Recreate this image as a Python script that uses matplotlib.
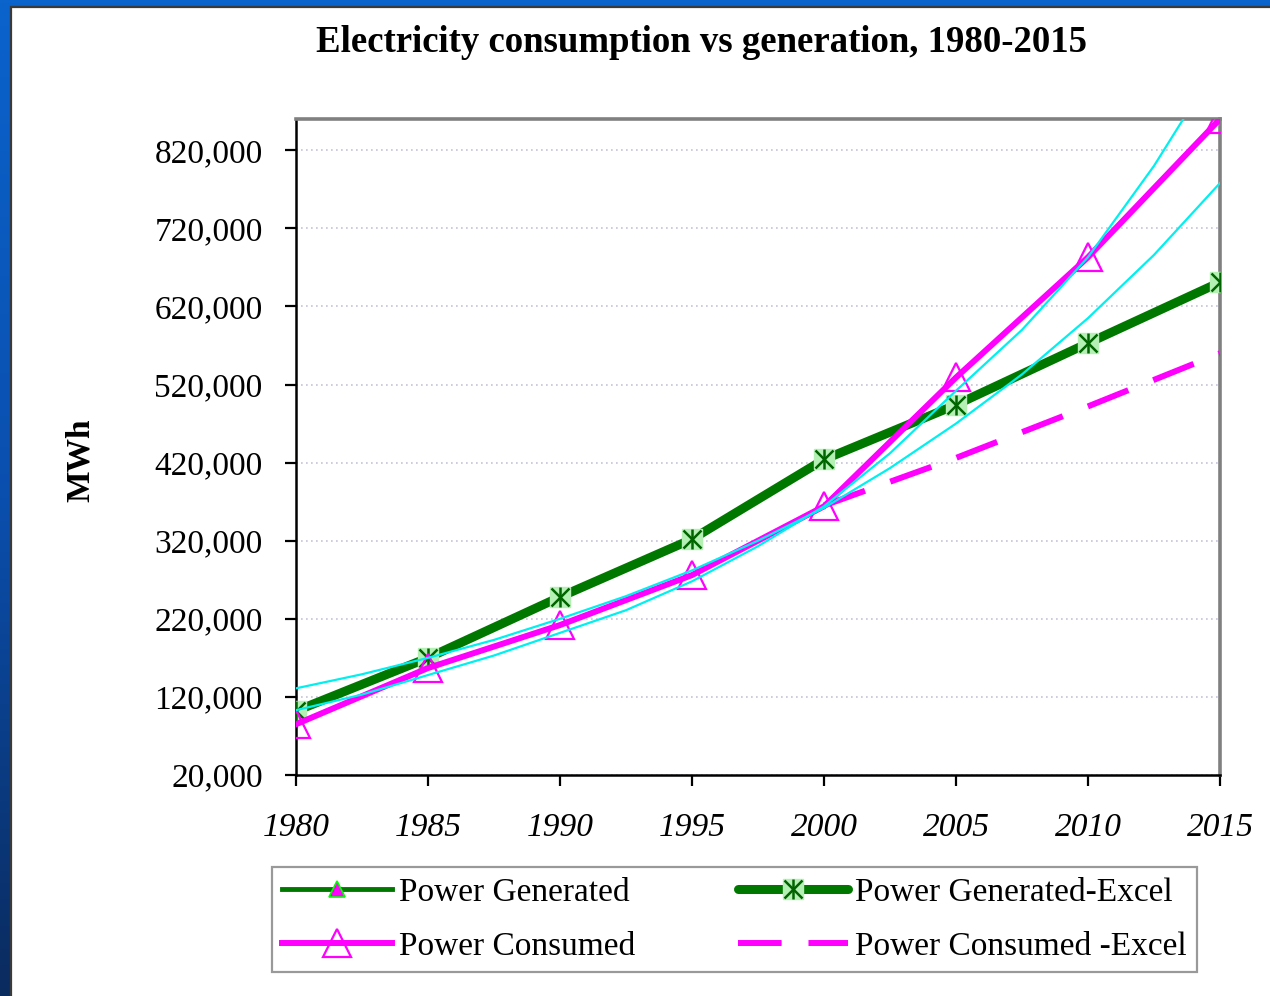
import numpy as np
import matplotlib.pyplot as plt
from matplotlib.colors import LinearSegmentedColormap
from matplotlib.patches import Rectangle
from matplotlib.legend_handler import HandlerTuple
from matplotlib.ticker import FuncFormatter

plt.rcParams['font.family'] = ['Liberation Serif', 'DejaVu Serif']

# data
years = [1980, 1985, 1990, 1995, 2000, 2005, 2010, 2015]
generated = [102000, 170000, 248000, 322000, 424000, 494000, 573000, 651000]
consumed = [85000, 157000, 212000, 276000, 364000, 529000, 683000, 860000]

years_fc = [2000, 2005, 2010, 2015]
consumed_fc = [365000, 426000, 492000, 560000]

# the two thin trend curves
years_tr = [1980, 1982.5, 1985, 1987.5, 1990, 1992.5, 1995, 1997.5,
            2000, 2002.5, 2005, 2007.5, 2010, 2012.5, 2015]
trend_a = [131000, 149000, 170000, 193000, 220000, 249000, 282000, 320000,
           362000, 413000, 470000, 533000, 605000, 686000, 778000]
trend_b = [103000, 123000, 148000, 173000, 202000, 231000, 268000, 313000,
           364000, 432000, 512000, 590000, 683000, 800000, 935000]

W, H = 1270, 996
fig = plt.figure(figsize=(W / 100, H / 100), dpi=100)

# slide background behind the chart (bright blue at top, navy at bottom)
bg = fig.add_axes([0, 0, 1, 1], zorder=-5)
grad = np.linspace(0, 1, 256).reshape(-1, 1)
slide = LinearSegmentedColormap.from_list('slide', ['#0a2b5e', '#0a4fae', '#0b63cc'])
bg.imshow(grad, aspect='auto', extent=[0, 1, 0, 1], cmap=slide)
bg.set_xlim(0, 1)
bg.set_ylim(1, 0)
bg.axis('off')
bg.add_patch(Rectangle((11 / W, 7 / H), 2, 2, facecolor='white',
                       edgecolor='#3a3a3a', linewidth=1.6))

ax = fig.add_axes([296 / W, 1 - 775 / H, (1220 - 296) / W, (775 - 119) / H])

green = '#007800'
light_green = '#b4f0b4'
magenta = '#ff00ff'
cyan = '#00f0f0'

# Power Generated (sits under the Excel series)
l_gen, = ax.plot(years, generated, color=green, lw=3.5, marker='^', ms=11,
                 markerfacecolor=magenta, markeredgecolor='#00ff00',
                 markeredgewidth=1.2, zorder=2)

# Power Generated-Excel
l_exc, = ax.plot(years, generated, color=green, lw=6.5, marker='s', ms=15,
                 markerfacecolor=light_green, markeredgecolor=light_green,
                 solid_capstyle='round', zorder=3)
l_x, = ax.plot(years, generated, ls='none', marker='x', ms=13, mew=1.8,
               color='#006400', zorder=4)
l_v, = ax.plot(years, generated, ls='none', marker='|', ms=15, mew=1.8,
               color='#006400', zorder=4)

# Power Consumed
l_con, = ax.plot(years, consumed, color=magenta, lw=4.3, marker='^', ms=20,
                 markerfacecolor='none', markeredgecolor=magenta,
                 markeredgewidth=1.6, zorder=5)

# Power Consumed -Excel
l_cfc, = ax.plot(years_fc, consumed_fc, color=magenta, lw=4.3,
                 dashes=(7.3, 4.5), zorder=5)

# trend curves
ax.plot(years_tr, trend_a, color=cyan, lw=1.6, zorder=6)
ax.plot(years_tr, trend_b, color=cyan, lw=1.6, zorder=6)

ax.set_xlim(1980, 2015)
ax.set_ylim(20000, 860000)
ax.set_xticks(years)
ax.set_yticks(np.arange(20000, 820001, 100000))
ax.yaxis.set_major_formatter(FuncFormatter(lambda v, p: f'{int(v):,}'))
ax.grid(axis='y', color='#c4c4d8', linestyle=(0, (1, 2)), linewidth=1.2)
ax.set_axisbelow(True)

ax.tick_params(axis='both', direction='out', length=8, width=1.6,
               labelsize=24, color='black')
ax.tick_params(axis='y', pad=16)
ax.tick_params(axis='x', pad=19)
for lab in ax.get_xticklabels():
    lab.set_fontstyle('italic')

for s in ['left', 'bottom']:
    ax.spines[s].set_color('black')
    ax.spines[s].set_linewidth(1.8)
for s in ['top', 'right']:
    ax.spines[s].set_color('#808080')
    ax.spines[s].set_linewidth(2.6)

fig.text(702 / W, 1 - 43 / H, 'Electricity consumption vs generation, 1980-2015',
         ha='center', va='center', fontsize=26.5, fontweight='bold')
fig.text(80 / W, 1 - 460 / H, 'MWh', rotation=90, ha='center', va='center',
         fontsize=24, fontweight='bold')

leg = fig.legend([l_gen, l_con, (l_exc, l_x, l_v), l_cfc],
                 ['Power Generated', 'Power Consumed',
                  'Power Generated-Excel', 'Power Consumed -Excel'],
                 handler_map={tuple: HandlerTuple(ndivide=1)},
                 ncol=2, loc='lower left', bbox_to_anchor=(272 / W, 24 / H),
                 fontsize=24, handlelength=3.3, handletextpad=0.2,
                 columnspacing=3.1, labelspacing=0.72, borderpad=0.3,
                 borderaxespad=0, frameon=True, fancybox=False)
leg.get_frame().set_edgecolor('#808080')
leg.get_frame().set_linewidth(1.6)

fig.savefig('out.png', dpi=100)
